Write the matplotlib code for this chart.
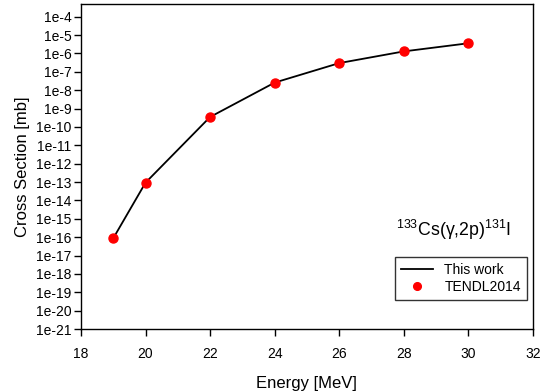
import matplotlib
matplotlib.use("Agg")
import matplotlib.pyplot as plt
from matplotlib.ticker import FixedLocator, NullLocator

plt.rcParams["font.family"] = ["Liberation Sans", "DejaVu Sans"]
plt.rcParams["mathtext.fontset"] = "custom"
plt.rcParams["mathtext.rm"] = "Liberation Sans"
plt.rcParams["mathtext.it"] = "Liberation Sans"

energy = [19, 20, 22, 24, 26, 28, 30]
cross_section = [8.7e-17, 9.3e-14, 3.5e-10, 2.6e-8, 3.0e-7, 1.3e-6, 3.6e-6]

x_ticks = [18, 20, 22, 24, 26, 28, 30, 32]
y_exponents = list(range(-21, -3))
y_ticks = [10.0 ** e for e in y_exponents]
y_tick_labels = ["1e%d" % e for e in y_exponents]

fig = plt.figure(figsize=(5.41, 3.92), dpi=100)
ax = fig.add_axes([0.1497, 0.1607, 0.8353, 0.8293])

ax.plot(energy, cross_section, color="black", lw=1.3, label="This work", zorder=2)
ax.plot(energy, cross_section, "o", color="#ff0000", ms=6.5, mec="#ff0000",
        label="TENDL2014", zorder=3)

ax.set_yscale("log")
ax.set_xlim(18, 32)
ax.set_ylim(1e-21, 5e-4)
ax.xaxis.set_major_locator(FixedLocator(x_ticks))
ax.yaxis.set_major_locator(FixedLocator(y_ticks))
ax.yaxis.set_minor_locator(NullLocator())
ax.set_yticklabels(y_tick_labels)
ax.tick_params(axis="both", direction="out", length=5, width=1, labelsize=10,
               top=False, right=False, pad=2)
ax.tick_params(axis="x", pad=8)
for s in ax.spines.values():
    s.set_linewidth(1)

ax.set_xlabel("Energy [MeV]", fontsize=12, labelpad=11)
ax.set_ylabel("Cross Section [mb]", fontsize=12, labelpad=4)

ax.text(0.952, 0.305, "$^{133}$Cs(\u03b3,2p)$^{131}$I", transform=ax.transAxes,
        fontsize=12.8, ha="right", va="center")

leg = ax.legend(loc="lower right", bbox_to_anchor=(0.987, 0.089), fontsize=10,
                frameon=True, fancybox=False, edgecolor="black", borderpad=0.45,
                borderaxespad=0, handlelength=2.3, labelspacing=0.2,
                markerscale=0.85)
leg.get_frame().set_linewidth(1)

fig.savefig("out.png", dpi=100)
